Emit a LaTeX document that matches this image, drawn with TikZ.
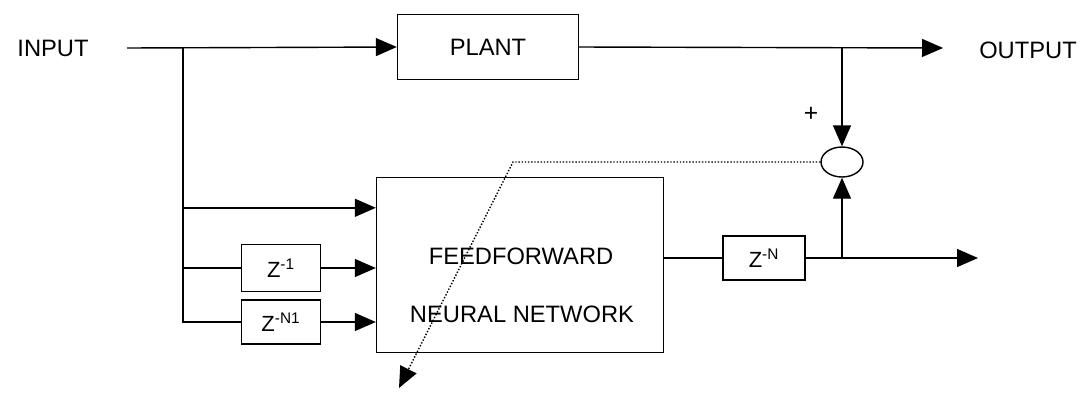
\documentclass[tikz,border=0pt]{standalone}
\usepackage{fontspec}
\setmainfont{Liberation Sans}
\usetikzlibrary{arrows.meta,positioning,shapes.geometric}

\begin{document}
\begin{tikzpicture}[
  x=0.02cm, y=-0.02cm,
  font=\fontsize{13.5}{16}\selectfont,
  blk/.style={rectangle, draw, line width=0.8pt, inner sep=0pt},
  dly/.style={blk, minimum width=1.58cm, minimum height=0.88cm,
              font=\fontsize{12.5}{14}\selectfont},
  arr/.style={-{Triangle[length=0.42cm, width=0.36cm]}, line width=0.8pt},
  ln/.style={line width=0.8pt},
  fb/.style={arr, densely dotted}
]
\useasboundingbox (0,0) rectangle (1088,393);

% --- Nodes ---
\node (in) at (53,48) {INPUT};
\node[blk, minimum width=3.62cm, minimum height=1.3cm] (plant) at (488,47) {PLANT};
\node (out) at (1028,50) {OUTPUT};

% neural network block and its text
\node[blk, minimum width=5.74cm, minimum height=3.5cm] (nn) at (520,265) {};
\node (ff)  at (521,256) {FEEDFORWARD};
\node (nnt) at (522,314) {NEURAL NETWORK};

% delays
\node[dly, minimum height=0.94cm] (z1) at (281,268) {Z\textsuperscript{-1}};
\node[dly] (z2) at (281,322) {Z\textsuperscript{-N1}};
\node[dly, minimum width=1.64cm] (zn) at (764,258) {Z\textsuperscript{-N}};

% comparator
\node[draw, ellipse, line width=0.8pt, inner sep=0pt,
      minimum width=0.84cm, minimum height=0.6cm] (sum) at (842,162) {};
\node[font=\fontsize{14}{16}\selectfont] (plus) at (811,114) {+};

% --- Coordinates ---
\coordinate (instart) at (127,48);
\coordinate (tap)     at (183,48);
\coordinate (outtip)  at (943,48);
\coordinate (yout)    at (978,258);
\coordinate (in1)     at ([yshift=-0.62cm]nn.north west);
\coordinate (knee)    at (513,162);
\coordinate (fbtip)   at (399,388);

% --- Arrows ---
\draw[arr] (instart) -- (plant.west);
\draw[arr] (plant.east) -- (outtip);
\draw[ln]  (tap) -- (tap |- z2.west) -- (z2.west);
\draw[arr] (tap |- in1) -- (in1);
\draw[ln]  (tap |- z1.west) -- (z1.west);
\draw[arr] (z1.east) -- (z1.east -| nn.west);
\draw[arr] (z2.east) -- (z2.east -| nn.west);
\draw[ln]  (nn.east |- zn.west) -- (zn.west);
\draw[arr] (zn.east) -- (yout);
\draw[arr] (sum |- plant.east) -- (sum.north);
\draw[arr] (sum |- zn.east) -- (sum.south);
\draw[fb]  (sum.west) -- (knee) -- (fbtip);

\end{tikzpicture}
\end{document}
